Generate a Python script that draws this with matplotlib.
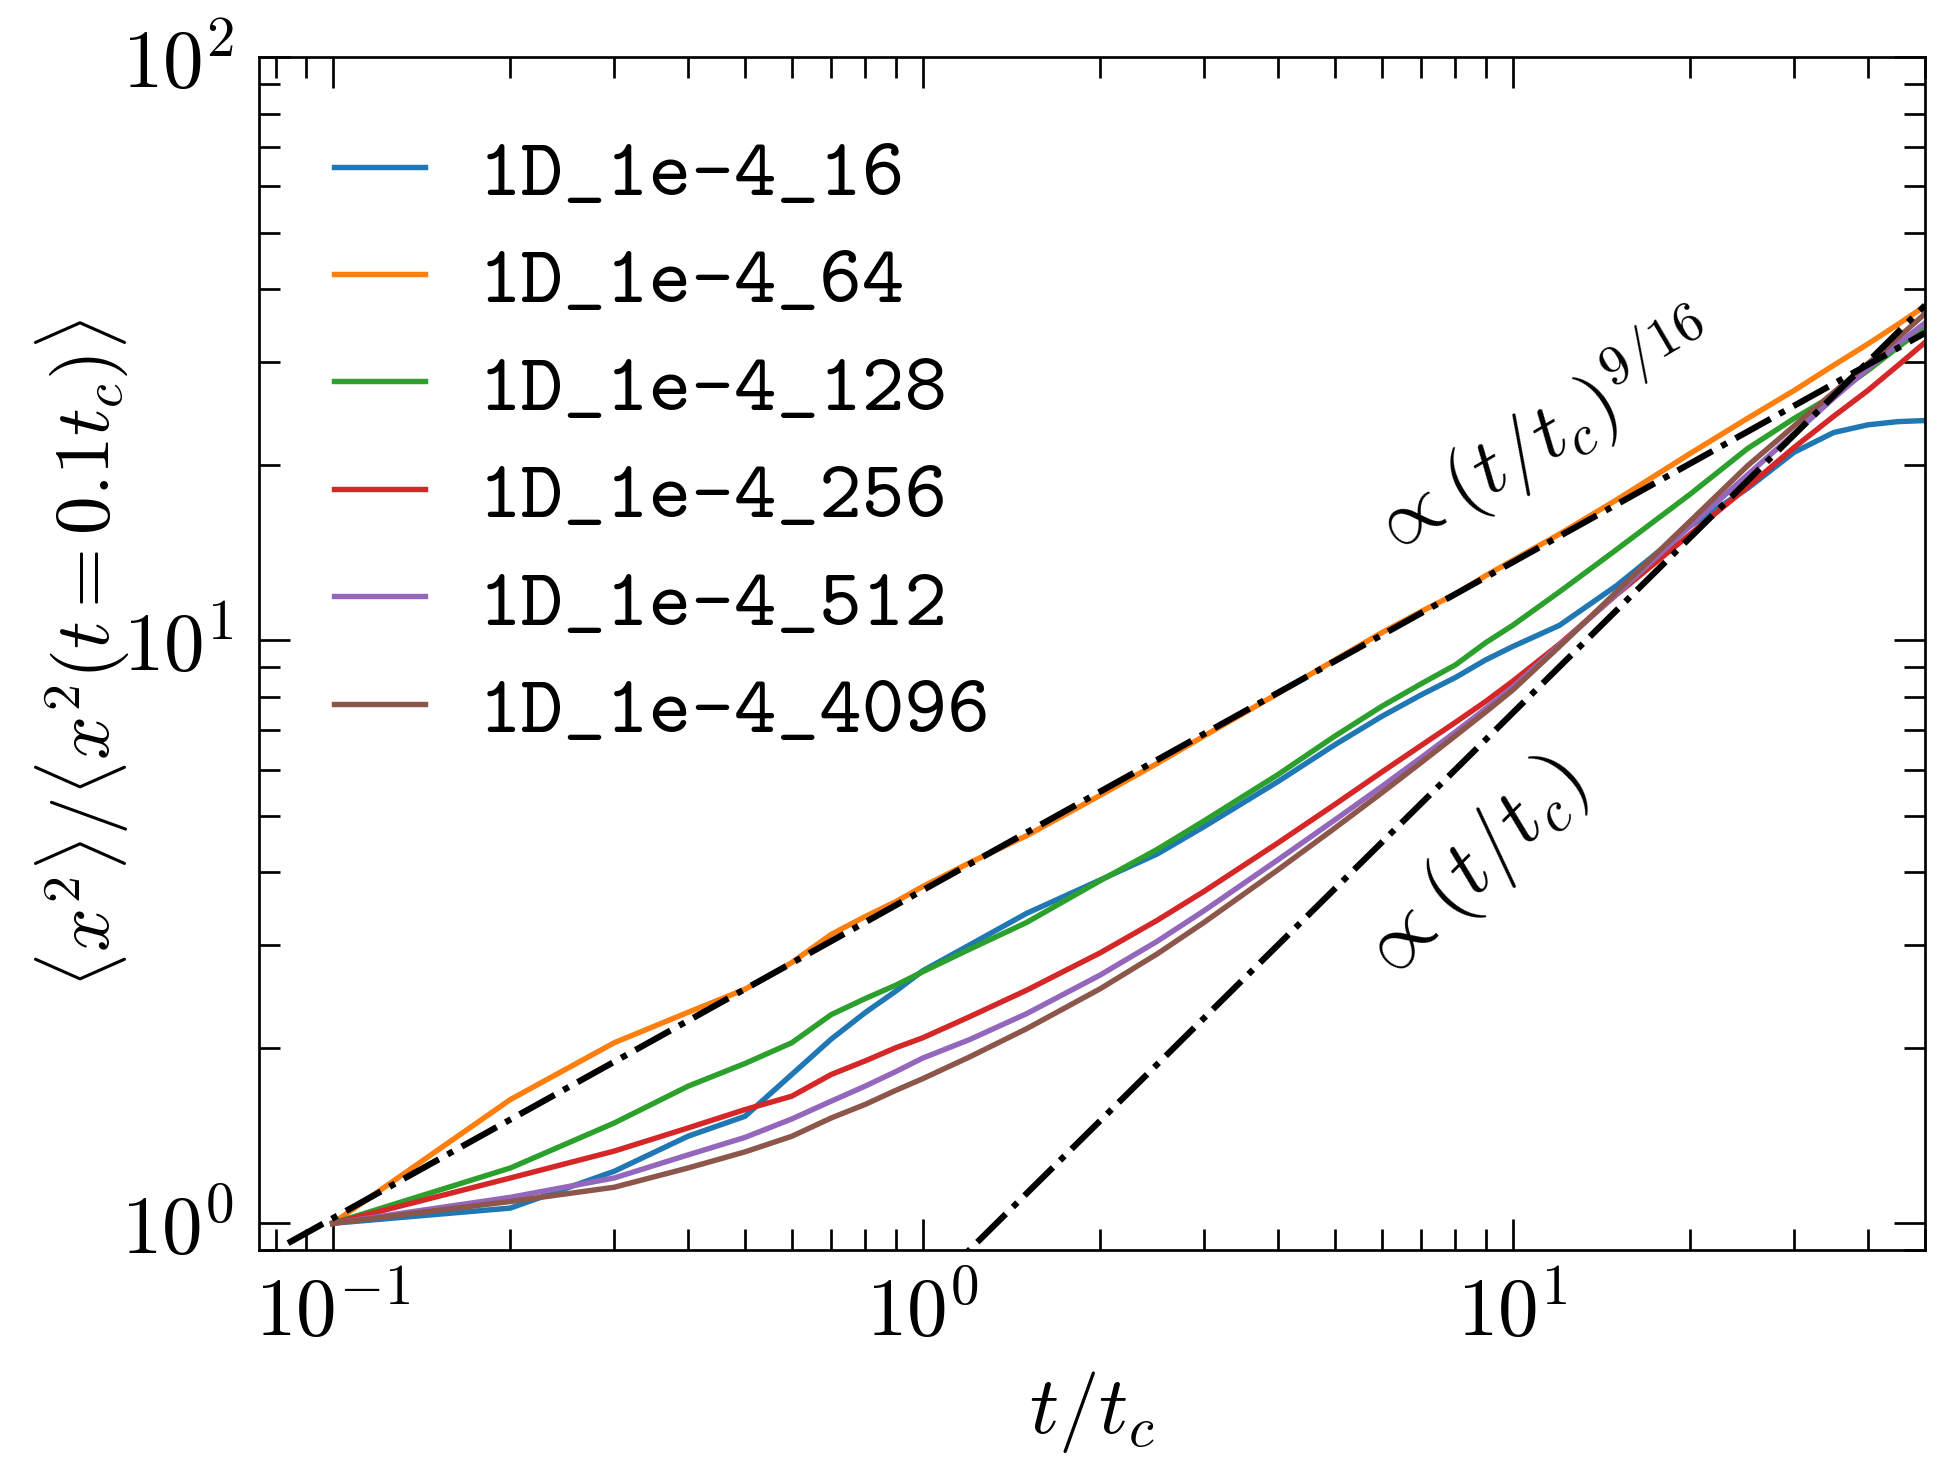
import numpy as np
import matplotlib
matplotlib.use("Agg")
import matplotlib.pyplot as plt
from matplotlib.ticker import FuncFormatter, LogLocator
from matplotlib.font_manager import FontProperties

plt.rcParams['mathtext.fontset'] = 'cm'

# sampled times t/t_c
t = [0.1, 0.2, 0.3, 0.4, 0.5, 0.6, 0.7, 0.8, 0.9, 1.0,
     1.2, 1.5, 2, 2.5, 3, 4, 5, 6, 7, 8, 9, 10,
     12, 15, 20, 25, 30, 35, 40, 45, 50]

labels = ["1D_1e-4_16", "1D_1e-4_64", "1D_1e-4_128",
          "1D_1e-4_256", "1D_1e-4_512", "1D_1e-4_4096"]

# <x^2> / <x^2(t=0.1 t_c)> for each run
msd_16 = [1.0, 1.062, 1.228, 1.41, 1.526, 1.80, 2.07, 2.30, 2.50, 2.71,
          3.0, 3.40, 3.88, 4.30, 4.79, 5.72, 6.62, 7.40, 8.06, 8.63, 9.25, 9.75,
          10.6, 12.4, 15.7, 18.2, 21.0, 22.7, 23.4, 23.7, 23.8]
msd_64 = [1.0, 1.63, 2.04, 2.30, 2.52, 2.80, 3.13, 3.36, 3.56, 3.78,
          4.15, 4.62, 5.42, 6.15, 6.85, 8.1, 9.25, 10.3, 11.2, 12.0, 12.9, 13.7,
          15.2, 17.4, 20.9, 24.0, 26.8, 29.6, 32.2, 34.8, 37.4]
msd_128 = [1.0, 1.244, 1.486, 1.718, 1.88, 2.04, 2.28, 2.43, 2.56, 2.70,
           2.95, 3.28, 3.87, 4.38, 4.90, 5.88, 6.85, 7.70, 8.42, 9.07, 9.9, 10.6,
           12.1, 14.3, 17.8, 21.3, 24.0, 26.3, 29.0, 31.8, 34.4]
msd_256 = [1.0, 1.196, 1.33, 1.457, 1.567, 1.652, 1.80, 1.90, 2.0, 2.08,
           2.26, 2.51, 2.91, 3.31, 3.71, 4.49, 5.23, 5.94, 6.60, 7.23, 7.85, 8.5,
           9.84, 11.97, 15.2, 18.3, 21.4, 24.2, 26.8, 29.6, 32.4]
msd_512 = [1.0, 1.108, 1.196, 1.31, 1.404, 1.51, 1.62, 1.72, 1.82, 1.92,
           2.065, 2.288, 2.666, 3.047, 3.437, 4.2, 4.92, 5.61, 6.29, 6.96, 7.63, 8.3,
           9.8, 12.0, 15.7, 19.2, 22.6, 26.0, 29.2, 32.2, 35.0]
msd_4096 = [1.0, 1.09, 1.153, 1.244, 1.326, 1.41, 1.516, 1.6, 1.69, 1.77,
            1.928, 2.156, 2.525, 2.899, 3.282, 4.037, 4.764, 5.472, 6.17, 6.855, 7.53, 8.21,
            9.75, 12.1, 16.0, 19.9, 23.3, 26.6, 29.8, 33.0, 36.3]

series = [msd_16, msd_64, msd_128, msd_256, msd_512, msd_4096]
colors = ['#1f77b4', '#ff7f0e', '#2ca02c', '#d62728', '#9467bd', '#8c564b']

# reference power laws
t_ref = np.logspace(np.log10(0.084), np.log10(50), 200)
pre_916 = 1.02
pre_lin = 0.75

fig = plt.figure(figsize=(1954/300, 1474/300), dpi=300)
ax = fig.add_axes([259/1954, 1 - 1250/1474, (1925-259)/1954, (1250-57)/1474])

for y, c, lab in zip(series, colors, labels):
    ax.plot(t, y, color=c, lw=1.3, label=lab)

ax.plot(t_ref, pre_916*(10*t_ref)**(9/16), 'k-.', lw=1.5)
ax.plot(t_ref, pre_lin*t_ref, 'k-.', lw=1.5)

ax.set_xscale('log')
ax.set_yscale('log')
ax.set_xlim(0.075, 50)
ax.set_ylim(0.9, 100)

fmt = FuncFormatter(lambda v, p: r'$10^{%d}$' % int(round(np.log10(v))))
ax.xaxis.set_major_formatter(fmt)
ax.yaxis.set_major_formatter(fmt)
ax.xaxis.set_minor_locator(LogLocator(subs=np.arange(2, 10)))
ax.yaxis.set_minor_locator(LogLocator(subs=np.arange(2, 10)))
ax.xaxis.set_minor_formatter(plt.NullFormatter())
ax.yaxis.set_minor_formatter(plt.NullFormatter())

ax.tick_params(which='both', direction='in', top=True, right=True, width=0.65, labelsize=19.5)
ax.tick_params(which='major', length=7.5)
ax.tick_params(which='minor', length=5)
ax.tick_params(axis='x', which='major', pad=6)
ax.tick_params(axis='y', which='major', pad=6)
for s in ax.spines.values():
    s.set_linewidth(0.65)

ax.set_xlabel(r'$t/t_c$', fontsize=19.5)
ax.set_ylabel(r'$\langle x^2\rangle/\langle x^2(t=0.1t_c)\rangle$', fontsize=18.5)
ax.xaxis.set_label_coords(0.5, -0.1)
ax.yaxis.set_label_coords(-0.076, 0.5)

ax.text(6.06, 13.86, r'$\propto(t/t_c)^{9/16}$', fontsize=19.2, rotation=30.5,
        rotation_mode='anchor', ha='left', va='baseline')
ax.text(6.1, 2.53, r'$\propto(t/t_c)$', fontsize=20, rotation=45,
        rotation_mode='anchor', ha='left', va='baseline')

leg = ax.legend(loc='upper left', frameon=False, prop=FontProperties(family='cmtt10', size=19.5),
                handlelength=1.12, handletextpad=0.66, labelspacing=0.4,
                bbox_to_anchor=(-0.004, 1.0), borderaxespad=0.6)

fig.savefig('out.png', dpi=300)
